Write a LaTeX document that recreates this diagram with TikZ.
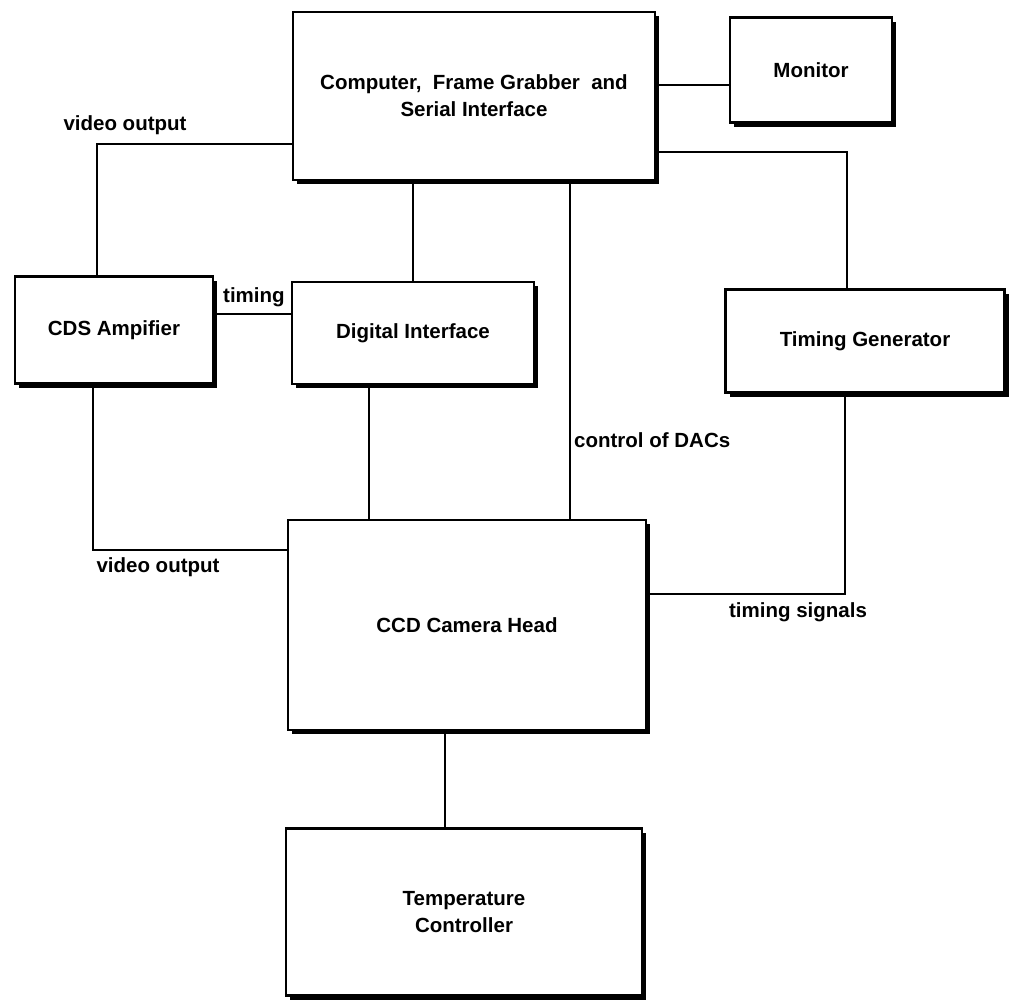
\documentclass[tikz,border=0pt]{standalone}
\usepackage{fontspec}
\setmainfont{Liberation Sans}
\usetikzlibrary{shadows}
\newcommand\dgfont{\fontsize{20.5}{27}\selectfont\bfseries}
\begin{document}
\begin{tikzpicture}[x=1pt,y=-1pt,
  box/.style={draw, line width=2.8pt, fill=white, align=center, inner sep=0pt, font=\dgfont,
    drop shadow={shadow xshift=4pt,shadow yshift=-4pt,fill=black,opacity=1}},
  conn/.style={line width=2.5pt},
  lab/.style={font=\dgfont, inner sep=0pt}]
\useasboundingbox[fill=white] (0,0) rectangle (1011,1001);
% boxes
\node[box, minimum width=362pt, minimum height=168pt] (comp) at (474,96) {Computer,\ \ Frame Grabber\ \ and\\Serial Interface};
\node[box, minimum width=162pt, minimum height=105pt] (mon) at (811,70) {Monitor};
\node[box, minimum width=198pt, minimum height=107pt] (cds) at (114,330) {CDS Ampifier};
\node[box, minimum width=242pt, minimum height=102pt] (dig) at (413,333) {Digital Interface};
\node[box, minimum width=279pt, minimum height=103pt] (tg) at (865,341) {Timing Generator};
\node[box, minimum width=358pt, minimum height=210pt] (ccd) at (467,625) {CCD Camera Head};
\node[box, minimum width=356pt, minimum height=167pt] (temp) at (464,912) {Temperature\\Controller};
% connectors
\coordinate (m1) at ([yshift=-15pt]mon.west);
\draw[conn] (comp.east |- m1) -- (m1);
\draw[conn] ([yshift=-48pt]comp.west) -| ([xshift=-17pt]cds.north);
\node[lab] (vo1) at (125,125) {video output};
\draw[conn] (dig.north) -- (dig.north |- comp.south);
\coordinate (t1) at ([yshift=16pt]cds.east);
\draw[conn] (t1) -- (dig.west |- t1);
\node[lab, anchor=west] (tim) at (223,297) {timing};
\coordinate (d1) at ([xshift=103pt]ccd.north);
\draw[conn] (d1) -- (d1 |- comp.south);
\node[lab, anchor=west] (dac) at (574,440) {control of DACs};
\coordinate (g1) at ([yshift=-56pt]comp.east);
\draw[conn] (g1) -| ([xshift=-18pt]tg.north);
\coordinate (s1) at ([xshift=-44pt]dig.south);
\draw[conn] (s1) -- (s1 |- ccd.north);
\coordinate (v2) at ([yshift=75pt]ccd.west);
\draw[conn] ([xshift=-21pt]cds.south) |- (v2);
\node[lab] (vo2) at (158,567) {video output};
\coordinate (t2) at ([yshift=31pt]ccd.east);
\draw[conn] ([xshift=-20pt]tg.south) |- (t2);
\node[lab] (ts) at (798,612) {timing signals};
\coordinate (c1) at ([xshift=-22pt]ccd.south);
\draw[conn] (c1) -- (c1 |- temp.north);
\end{tikzpicture}
\end{document}
